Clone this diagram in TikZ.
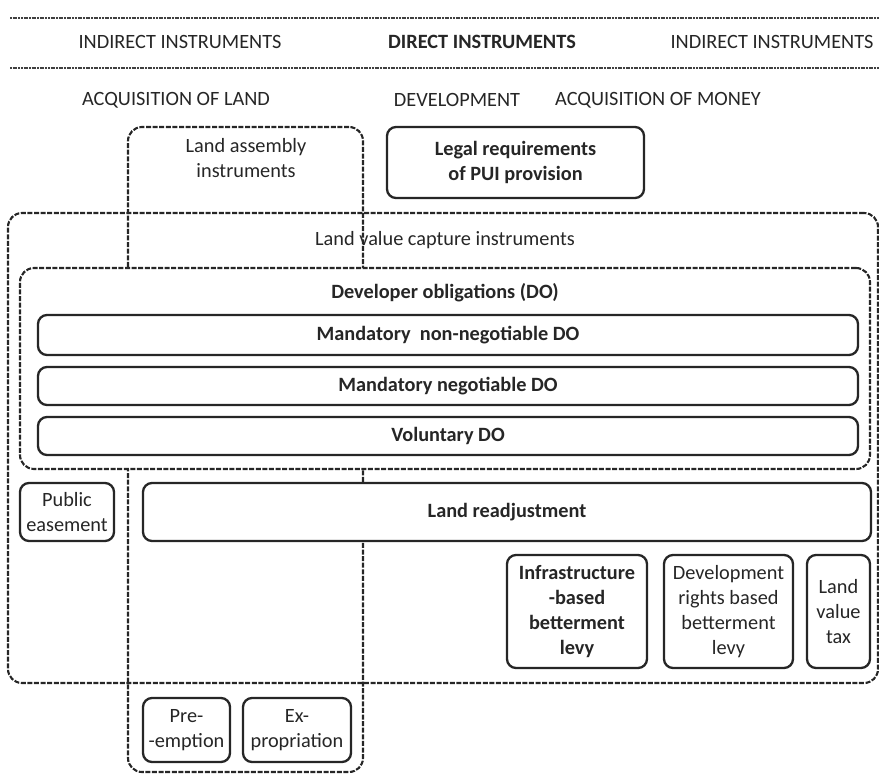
\documentclass[tikz,border=0pt]{standalone}
\usepackage{fontspec}
\setmainfont{Carlito}

\begin{document}
\begin{tikzpicture}[x=1pt,y=-1pt,align=center,font=\fontsize{20.3}{25}\selectfont,
	solidbox/.style={rectangle,rounded corners=9pt,draw=black!85,line width=2.3pt,fill=white,inner sep=1pt,text=black!85},
	dashbox/.style={rectangle,rounded corners=14pt,draw=black!85,line width=2.1pt,dash pattern=on 5pt off 1.6pt},
	rulerline/.style={draw=black!75,line width=2pt,dash pattern=on 2pt off 0.7pt},
	caption/.style={text=black!85,inner sep=0pt}]
	\useasboundingbox (0,0) rectangle (879,774);

	% header rows
	\coordinate (topL) at (10,18);   \coordinate (topR) at (879,18);
	\coordinate (midL) at (10,68);   \coordinate (midR) at (879,68);
	\draw[rulerline] (topL) -- (topR);
	\draw[rulerline] (midL) -- (midR);

	\node[caption] (indirL) at (180,42) {INDIRECT INSTRUMENTS};
	\node[caption] (direct) at (482,42) {\bfseries DIRECT INSTRUMENTS};
	\node[caption] (indirR) at (772,42) {INDIRECT INSTRUMENTS};

	\node[caption] (acqLand)  at (176,100) {ACQUISITION OF LAND};
	\node[caption] (develop)  at (457,100) {DEVELOPMENT};
	\node[caption] (acqMoney) at (658,100) {ACQUISITION OF MONEY};

	% frames
	\node[dashbox,minimum width=235,minimum height=645] (landAsm) at (245.5,449.5) {};
		\node[caption] (landAsmT) at (246,158) {Land assembly\\instruments};

	\node[solidbox,minimum width=257,minimum height=71] (legal) at (515.5,162.5) {\bfseries Legal requirements\\\bfseries of PUI provision};

	\node[dashbox,minimum width=870,minimum height=470] (lvc) at (443,448) {};
		\node[caption] (lvcT) at (445,240) {Land value capture instruments};

	\node[dashbox,fill=white,minimum width=850,minimum height=201] (devObl) at (445,368.5) {};
		\node[caption] (devOblT) at (445,293) {\bfseries Developer obligations (DO)};

		\node[solidbox,minimum width=820,minimum height=40] (mandNN) at (448,335) {\bfseries Mandatory\ \ non-negotiable DO};
		\node[solidbox,minimum width=820,minimum height=38] (mandN)  at (448,386) {\bfseries Mandatory negotiable DO};
		\node[solidbox,minimum width=820,minimum height=38] (volDO)  at (448,436) {\bfseries Voluntary DO};

	\node[solidbox,minimum width=94,minimum height=58] (pubEase) at (67,512) {Public\\easement};
	\node[solidbox,minimum width=728,minimum height=58] (landRe) at (507,512) {\bfseries Land readjustment};

	\node[solidbox,minimum width=140,minimum height=113] (infraLevy) at (577,611.5) {\bfseries Infrastructure\\\bfseries -based\\\bfseries betterment\\\bfseries levy};
	\node[solidbox,minimum width=129,minimum height=113] (devRLevy) at (728.5,611.5) {Development\\rights based\\betterment\\levy};
	\node[solidbox,minimum width=63,minimum height=113] (lvTax) at (838.5,611.5) {Land\\value\\tax};

	\node[solidbox,minimum width=87,minimum height=64] (preEmp) at (186.5,730) {Pre-\\-emption};
	\node[solidbox,minimum width=108,minimum height=64] (exProp) at (297,730) {Ex-\\propriation};
\end{tikzpicture}
\end{document}
